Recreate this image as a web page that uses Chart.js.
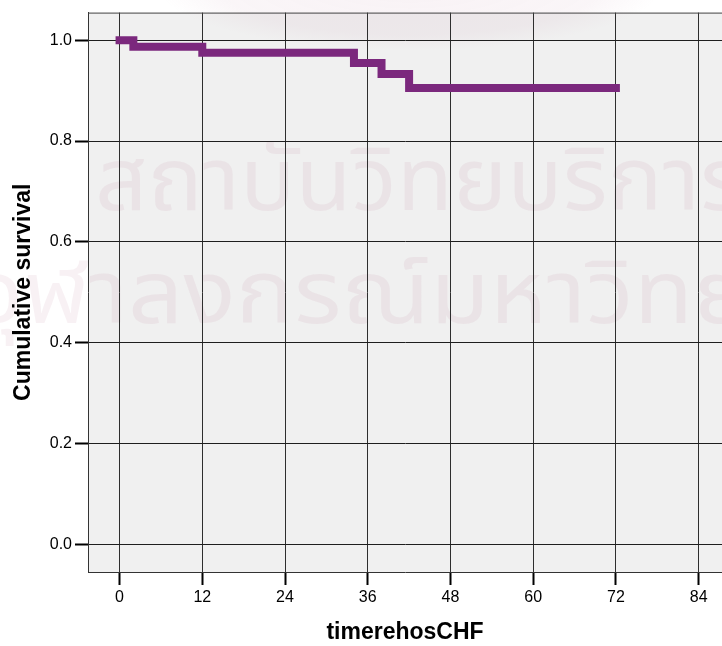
<!DOCTYPE html>
<html>
<head>
<meta charset="utf-8">
<script src="https://cdn.jsdelivr.net/npm/chart.js@4/dist/chart.umd.min.js"></script>
<style>
  html, body { margin: 0; padding: 0; background: #ffffff; }
  #wrap { width: 722px; height: 646px; }
</style>
</head>
<body>
<div id="wrap"><canvas id="km" width="722" height="646"></canvas></div>
<script>
// Kaplan-Meier step estimate: time (months) and cumulative survival
const months   = [0, 2, 12, 34, 38, 42, 72];
const survival = [1.0, 0.987, 0.975, 0.955, 0.933, 0.905, 0.905];

// axis tick values
const xTicks = [0, 12, 24, 36, 48, 60, 72, 84];
const yTicks = [0.0, 0.2, 0.4, 0.6, 0.8, 1.0];

const xTitle = 'timerehosCHF';
const yTitle = 'Cumulative survival';

const watermarkLines = ['สถาบันวิทยบริการ', 'จุฬาลงกรณ์มหาวิทยาลัย'];

const FONT = '"Liberation Sans", Arial, Helvetica, sans-serif';

// plot-area fill, faint institutional watermark and the top frame line
const framePlugin = {
  id: 'frame',
  beforeDraw(chart) {
    const { ctx, chartArea: a } = chart;
    ctx.save();
    ctx.fillStyle = '#f0f0f0';
    ctx.fillRect(a.left, a.top, a.right - a.left, a.bottom - a.top);

    // soft emblem halo along the top edge
    ctx.save();
    ctx.translate(410, -12);
    ctx.scale(1, 0.25);
    const g = ctx.createRadialGradient(0, 0, 0, 0, 0, 250);
    g.addColorStop(0, 'rgba(200, 150, 175, 0.12)');
    g.addColorStop(0.75, 'rgba(200, 150, 175, 0.09)');
    g.addColorStop(1, 'rgba(200, 150, 175, 0)');
    ctx.fillStyle = g;
    ctx.beginPath();
    ctx.arc(0, 0, 250, 0, Math.PI * 2);
    ctx.fill();
    ctx.restore();

    ctx.fillStyle = 'rgba(190, 120, 150, 0.10)';
    ctx.textBaseline = 'alphabetic';
    ctx.textAlign = 'left';
    ctx.font = '90px "Noto Sans Thai", "Noto Sans", "DejaVu Sans", sans-serif';
    ctx.save();
    ctx.translate(95, 210);
    ctx.scale(1.02, 0.97);
    ctx.fillText(watermarkLines[0], 0, 0);
    ctx.restore();
    ctx.save();
    ctx.translate(-28, 323);
    ctx.scale(1.08, 0.97);
    ctx.fillText(watermarkLines[1], 0, 0);
    ctx.restore();
    ctx.restore();
  },
  afterDatasetsDraw(chart) {
    const { ctx, chartArea: a } = chart;
    ctx.save();
    ctx.strokeStyle = '#444';
    ctx.lineWidth = 1;
    ctx.beginPath();
    ctx.moveTo(a.left, a.top + 0.5);
    ctx.lineTo(a.right, a.top + 0.5);
    ctx.stroke();
    ctx.restore();
  }
};

new Chart(document.getElementById('km'), {
  type: 'line',
  data: {
    datasets: [{
      data: months.map((m, i) => ({ x: m, y: survival[i] })),
      stepped: 'before',
      borderColor: '#7b287d',
      borderWidth: 8,
      borderCapStyle: 'square',
      borderJoinStyle: 'miter',
      pointRadius: 0,
      fill: false
    }]
  },
  options: {
    responsive: false,
    animation: false,
    layout: { padding: { top: 12, left: 0, right: 0, bottom: 0 } },
    plugins: { legend: { display: false }, tooltip: { enabled: false } },
    scales: {
      x: {
        type: 'linear',
        min: -4.58,
        max: 87.39,
        afterBuildTicks: s => { s.ticks = xTicks.map(v => ({ value: v })); },
        afterFit: s => { s.height = 74; },
        ticks: {
          color: '#000',
          font: { family: FONT, size: 16 },
          padding: 3,
          maxRotation: 0,
          callback: v => String(v)
        },
        grid: {
          color: '#2e2e2e',
          lineWidth: 1,
          drawTicks: true,
          tickLength: 13,
          tickWidth: 2,
          tickColor: '#000'
        },
        border: { display: true, color: '#333', width: 1 },
        title: {
          display: true,
          text: xTitle,
          color: '#000',
          font: { family: FONT, size: 23, weight: 'bold' },
          padding: { top: 0, bottom: 0 }
        }
      },
      y: {
        type: 'linear',
        min: -0.055,
        max: 1.0548,
        afterBuildTicks: s => { s.ticks = yTicks.map(v => ({ value: v })); },
        afterFit: s => { s.width = 88; },
        ticks: {
          color: '#000',
          font: { family: FONT, size: 16 },
          padding: 3,
          callback: v => Number(v).toFixed(1)
        },
        grid: {
          color: '#1e1e1e',
          lineWidth: 1,
          drawTicks: true,
          tickLength: 13,
          tickWidth: 2,
          tickColor: '#000'
        },
        border: { display: true, color: '#333', width: 1 },
        title: {
          display: true,
          text: yTitle,
          color: '#000',
          font: { family: FONT, size: 23, weight: 'bold' },
          padding: { top: 10, bottom: 0 }
        }
      }
    }
  },
  plugins: [framePlugin]
});
</script>
</body>
</html>
